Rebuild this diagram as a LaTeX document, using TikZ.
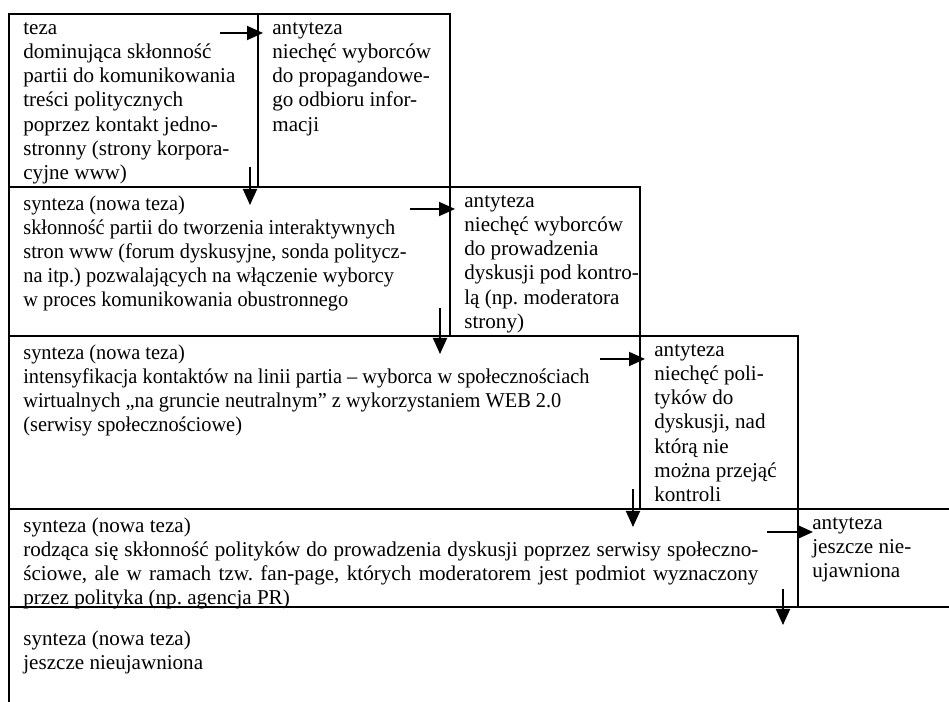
\documentclass[tikz,border=0pt]{standalone}
\usepackage{fontspec}
\setmainfont{Liberation Serif}
\frenchspacing
\usetikzlibrary{positioning, calc, arrows.meta}

\begin{document}
\begin{tikzpicture}[
  pole/.style={
    rectangle, draw=black, line width=1.1pt,
    anchor=north west, outer sep=0pt, inner sep=0pt
  },
  tekst/.style={
    anchor=north west, align=left, inner sep=0pt,
    xshift=0.28cm, yshift=-0.17cm,
    font=\fontsize{12pt}{13.7pt}\selectfont
  },
  waski/.style={transform shape, xscale=0.965},
  strz/.style={
    -{Triangle[length=0.32cm, width=0.28cm]},
    line width=1.1pt
  }
]
\useasboundingbox (0,0) rectangle (18.98,14.04);

%% ═══════════════════════════════════════════════
%% Pola (teza / antyteza / synteza)
%% ═══════════════════════════════════════════════
\node[pole, minimum width=4.98cm, minimum height=3.46cm]
  (teza) at (0.18,13.76) {};
\node[pole, minimum width=3.84cm, minimum height=3.46cm]
  (anty1) at (teza.north east) {};

\node[pole, minimum width=8.82cm, minimum height=2.98cm]
  (synt2) at (teza.south west) {};
\node[pole, minimum width=3.80cm, minimum height=2.98cm]
  (anty2) at (synt2.north east) {};

\node[pole, minimum width=12.62cm, minimum height=3.46cm]
  (synt3) at (synt2.south west) {};
\node[pole, minimum width=3.16cm, minimum height=3.46cm]
  (anty3) at (synt3.north east) {};

\node[pole, minimum width=15.78cm, minimum height=1.96cm]
  (synt4) at (synt3.south west) {};
\node[pole, minimum width=4.0cm, minimum height=1.96cm]
  (anty4) at (synt4.north east) {};

%% ostatnie pole wychodzi poza kadr
\node[pole, minimum width=20cm, minimum height=3cm]
  (synt5) at (synt4.south west) {};

%% ═══════════════════════════════════════════════
%% Teksty
%% ═══════════════════════════════════════════════
\node[tekst] (teza-t) at (teza.north west)
  {teza\\dominująca skłonność\\partii do komunikowania\\treści politycznych\\
   poprzez kontakt jedno-\\stronny (strony korpora-\\cyjne www)};
\node[tekst] (anty1-t) at (anty1.north west)
  {antyteza\\niechęć wyborców\\do propagandowe-\\go odbioru infor-\\macji};

\node[tekst, waski] (synt2-t) at (synt2.north west)
  {synteza (nowa teza)\\skłonność partii do tworzenia interaktywnych\\
   stron www (forum dyskusyjne, sonda politycz-\\
   na itp.) pozwalających na włączenie wyborcy\\
   w proces komunikowania obustronnego};
\node[tekst] (anty2-t) at (anty2.north west)
  {antyteza\\niechęć wyborców\\do prowadzenia\\dyskusji pod kontro-\\
   lą (np. moderatora\\strony)};

\node[tekst, waski] (synt3-t) at (synt3.north west)
  {synteza (nowa teza)\\
   intensyfikacja kontaktów na linii partia – wyborca w społecznościach\\
   wirtualnych „na gruncie neutralnym” z wykorzystaniem WEB 2.0\\
   (serwisy społecznościowe)};
\node[tekst] (anty3-t) at (anty3.north west)
  {antyteza\\niechęć poli-\\tyków do\\dyskusji, nad\\którą nie\\
   można przejąć\\kontroli};

%% wiersze 2-3 wyjustowane
\node[tekst, align=justify, text width=14.7cm] (synt4-t) at (synt4.north west)
  {synteza (nowa teza)\\
   rodząca się skłonność polityków do prowadzenia dyskusji poprzez serwisy społeczno-\linebreak
   ściowe, ale w ramach tzw. fan-page, których moderatorem jest podmiot wyznaczony\linebreak
   przez polityka (np. agencja PR)};
\node[tekst] (anty4-t) at (anty4.north west)
  {antyteza\\jeszcze nie-\\ujawniona};

\node[tekst, yshift=-0.3cm] (synt5-t) at (synt5.north west)
  {synteza (nowa teza)\\jeszcze nieujawniona};

%% ── Strzałki ────────────────────────────────────
\coordinate (s1) at (4.40,13.38);
\coordinate (s2) at (5.00,10.70);
\coordinate (s3) at (8.20,9.86);
\coordinate (s4) at (8.80,7.88);
\coordinate (s5) at (12.00,6.86);
\coordinate (s6) at (12.66,4.26);
\coordinate (s7) at (15.34,3.40);
\coordinate (s8) at (15.66,2.26);

%% teza → antyteza, teza → synteza
\draw[strz, shorten >=-0.1cm] (s1) -- (s1 -| anty1.west);
\draw[strz, shorten >=-0.36cm] (s2) -- (s2 |- synt2.north);

\draw[strz, shorten >=-0.1cm] (s3) -- (s3 -| anty2.west);
\draw[strz, shorten >=-0.36cm] (s4) -- (s4 |- synt3.north);

\draw[strz, shorten >=-0.1cm] (s5) -- (s5 -| anty3.west);
\draw[strz, shorten >=-0.36cm] (s6) -- (s6 |- synt4.north);

\draw[strz, shorten >=-0.3cm] (s7) -- (s7 -| anty4.west);
\draw[strz, shorten >=-0.36cm] (s8) -- (s8 |- synt5.north);

\end{tikzpicture}
\end{document}
